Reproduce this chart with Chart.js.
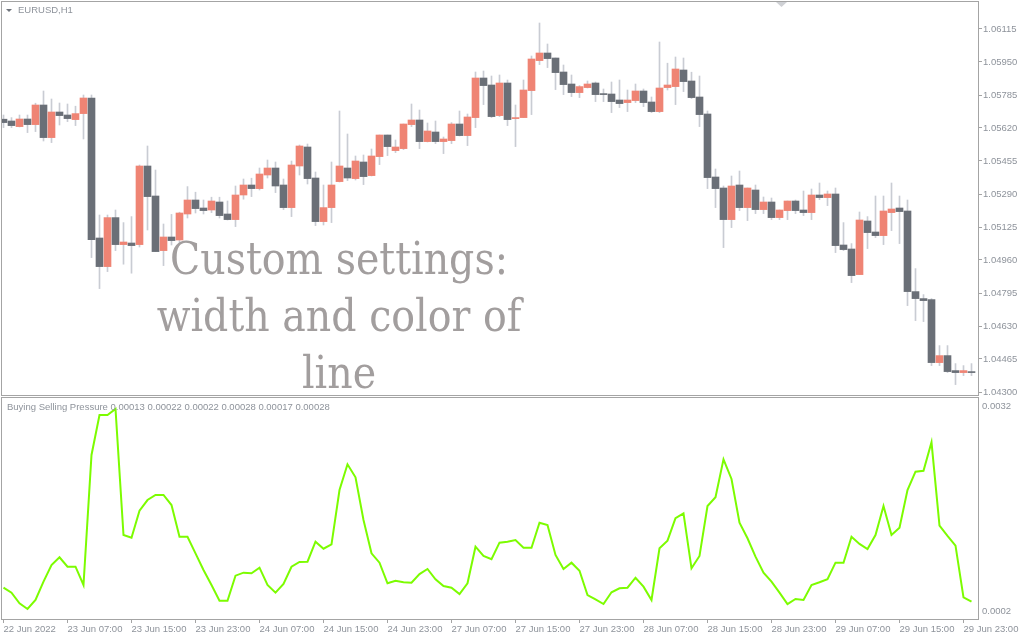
<!DOCTYPE html>
<html lang="en">
<head>
<meta charset="UTF-8">
<title>EURUSD,H1 - Buying Selling Pressure</title>
<script src="https://cdn.jsdelivr.net/npm/chart.js@4.4.3/dist/chart.umd.min.js"></script>
<style>
  body { margin: 0; background: #fff; }
  #wrap { position: relative; width: 1024px; height: 640px; overflow: hidden; background: #fff; }
  #wrap canvas { position: absolute; left: 0; }
</style>
</head>
<body>
<div id="wrap">
  <canvas id="price" width="1024" height="400" style="top:0"></canvas>
  <canvas id="bsp" width="1024" height="243" style="top:397px"></canvas>
</div>
<script>
// EURUSD H1, 22 Jun 2022 23:00 .. 30 Jun 2022 00:00 (122 bars)
const opens = [
  1.05664, 1.05655, 1.05627, 1.05665, 1.05637, 1.05735, 1.05572, 1.05700, 1.05685, 1.05662,
  1.05692, 1.05770, 1.05070, 1.04927, 1.05172, 1.05037, 1.05045, 1.05037, 1.05430, 1.05280,
  1.05007, 1.05075, 1.05060, 1.05190, 1.05260, 1.05220, 1.05210, 1.05250, 1.05190, 1.05162,
  1.05285, 1.05335, 1.05317, 1.05385, 1.05420, 1.05335, 1.05222, 1.05430, 1.05525, 1.05370,
  1.05152, 1.05222, 1.05352, 1.05420, 1.05367, 1.05450, 1.05382, 1.05477, 1.05585, 1.05507,
  1.05517, 1.05637, 1.05660, 1.05552, 1.05600, 1.05552, 1.05557, 1.05640, 1.05582, 1.05672,
  1.05870, 1.05835, 1.05682, 1.05845, 1.05667, 1.05672, 1.05807, 1.05957, 1.05995, 1.05970,
  1.05900, 1.05840, 1.05797, 1.05822, 1.05845, 1.05790, 1.05790, 1.05760, 1.05747, 1.05757,
  1.05805, 1.05750, 1.05702, 1.05822, 1.05827, 1.05910, 1.05855, 1.05775, 1.05690, 1.05375,
  1.05320, 1.05162, 1.05335, 1.05222, 1.05310, 1.05212, 1.05250, 1.05172, 1.05207, 1.05255,
  1.05210, 1.05197, 1.05285, 1.05272, 1.05290, 1.05035, 1.05015, 1.04887, 1.05155, 1.05100,
  1.05082, 1.05197, 1.05220, 1.05205, 1.04802, 1.04767, 1.04762, 1.04447, 1.04482, 1.04407,
  1.04397, 1.04402
];
const highs = [
  1.05685, 1.05672, 1.05685, 1.05685, 1.05744, 1.05805, 1.05765, 1.05745, 1.05740, 1.05729,
  1.05785, 1.05785, 1.05185, 1.05185, 1.05210, 1.05147, 1.05177, 1.05435, 1.05530, 1.05410,
  1.05140, 1.05188, 1.05199, 1.05327, 1.05299, 1.05260, 1.05274, 1.05274, 1.05255, 1.05330,
  1.05365, 1.05369, 1.05420, 1.05460, 1.05450, 1.05365, 1.05455, 1.05535, 1.05540, 1.05400,
  1.05335, 1.05450, 1.05705, 1.05590, 1.05480, 1.05485, 1.05515, 1.05585, 1.05585, 1.05560,
  1.05640, 1.05740, 1.05710, 1.05645, 1.05655, 1.05575, 1.05647, 1.05705, 1.05690, 1.05900,
  1.05905, 1.05880, 1.05885, 1.05860, 1.05735, 1.05860, 1.05980, 1.06145, 1.06040, 1.05970,
  1.05935, 1.05885, 1.05832, 1.05855, 1.05850, 1.05815, 1.05850, 1.05860, 1.05810, 1.05840,
  1.05815, 1.05775, 1.06050, 1.05944, 1.05975, 1.05970, 1.05899, 1.05880, 1.05705, 1.05415,
  1.05330, 1.05380, 1.05405, 1.05320, 1.05335, 1.05275, 1.05270, 1.05210, 1.05255, 1.05260,
  1.05305, 1.05315, 1.05345, 1.05305, 1.05320, 1.05147, 1.05042, 1.05200, 1.05177, 1.05280,
  1.05280, 1.05345, 1.05280, 1.05260, 1.04917, 1.04787, 1.04767, 1.04532, 1.04532, 1.04442,
  1.04432, 1.04442
];
const lows = [
  1.05622, 1.05622, 1.05625, 1.05597, 1.05602, 1.05555, 1.05547, 1.05635, 1.05652, 1.05632,
  1.05565, 1.04972, 1.04817, 1.04902, 1.05007, 1.04939, 1.04894, 1.05025, 1.05110, 1.05002,
  1.04932, 1.05035, 1.05045, 1.05170, 1.05195, 1.05190, 1.05197, 1.05170, 1.05160, 1.05127,
  1.05264, 1.05277, 1.05310, 1.05370, 1.05297, 1.05212, 1.05177, 1.05385, 1.05340, 1.05132,
  1.05135, 1.05147, 1.05350, 1.05357, 1.05360, 1.05337, 1.05380, 1.05437, 1.05482, 1.05497,
  1.05512, 1.05627, 1.05517, 1.05550, 1.05542, 1.05492, 1.05542, 1.05580, 1.05532, 1.05622,
  1.05737, 1.05672, 1.05677, 1.05632, 1.05527, 1.05672, 1.05687, 1.05937, 1.05922, 1.05812,
  1.05787, 1.05777, 1.05772, 1.05820, 1.05752, 1.05752, 1.05697, 1.05722, 1.05702, 1.05747,
  1.05727, 1.05697, 1.05697, 1.05810, 1.05737, 1.05802, 1.05767, 1.05627, 1.05317, 1.05222,
  1.05022, 1.05122, 1.05207, 1.05157, 1.05192, 1.05192, 1.05162, 1.05162, 1.05162, 1.05192,
  1.05182, 1.05162, 1.05262, 1.05232, 1.04997, 1.05007, 1.04847, 1.04887, 1.05017, 1.05072,
  1.05037, 1.05107, 1.05042, 1.04732, 1.04657, 1.04652, 1.04432, 1.04432, 1.04397, 1.04337,
  1.04382, 1.04382
];
const closes = [
  1.05647, 1.05632, 1.05665, 1.05637, 1.05735, 1.05572, 1.05700, 1.05682, 1.05667, 1.05692,
  1.05770, 1.05062, 1.04927, 1.05172, 1.05037, 1.05050, 1.05032, 1.05430, 1.05277, 1.05002,
  1.05075, 1.05057, 1.05195, 1.05260, 1.05217, 1.05207, 1.05255, 1.05182, 1.05162, 1.05285,
  1.05335, 1.05317, 1.05390, 1.05420, 1.05330, 1.05222, 1.05435, 1.05530, 1.05367, 1.05152,
  1.05222, 1.05335, 1.05430, 1.05370, 1.05455, 1.05377, 1.05480, 1.05585, 1.05527, 1.05525,
  1.05640, 1.05660, 1.05552, 1.05605, 1.05552, 1.05565, 1.05640, 1.05582, 1.05675, 1.05870,
  1.05832, 1.05677, 1.05845, 1.05662, 1.05670, 1.05810, 1.05965, 1.05995, 1.05967, 1.05897,
  1.05837, 1.05797, 1.05827, 1.05840, 1.05787, 1.05787, 1.05752, 1.05742, 1.05760, 1.05805,
  1.05747, 1.05702, 1.05820, 1.05835, 1.05915, 1.05852, 1.05772, 1.05687, 1.05372, 1.05317,
  1.05162, 1.05330, 1.05222, 1.05320, 1.05212, 1.05250, 1.05172, 1.05210, 1.05255, 1.05207,
  1.05197, 1.05285, 1.05272, 1.05290, 1.05032, 1.05012, 1.04882, 1.05160, 1.05097, 1.05082,
  1.05205, 1.05215, 1.05202, 1.04802, 1.04767, 1.04757, 1.04447, 1.04482, 1.04402, 1.04397,
  1.04407, 1.04397
];
// Buying Selling Pressure indicator, one value per bar
const pressure = [
  0.000541, 0.000468, 0.000313, 0.000229, 0.000361, 0.000629, 0.000873, 0.000986, 0.000848, 0.000848,
  0.000581, 0.002483, 0.003068, 0.003068, 0.003156, 0.001312, 0.001273, 0.001668, 0.001824, 0.001898,
  0.001898, 0.001751, 0.001287, 0.001287, 0.001044, 0.000800, 0.000581, 0.000351, 0.000351, 0.000717,
  0.000761, 0.000752, 0.000834, 0.000581, 0.000468, 0.000595, 0.000848, 0.000917, 0.000921, 0.001214,
  0.001112, 0.001176, 0.001971, 0.002347, 0.002157, 0.001532, 0.001044, 0.000907, 0.000605, 0.000643,
  0.000620, 0.000614, 0.000741, 0.000815, 0.000664, 0.000566, 0.000541, 0.000449, 0.000605, 0.001141,
  0.001005, 0.000957, 0.001200, 0.001214, 0.001239, 0.001126, 0.001126, 0.001492, 0.001459, 0.001020,
  0.000815, 0.000907, 0.000790, 0.000434, 0.000371, 0.000302, 0.000474, 0.000532, 0.000541, 0.000687,
  0.000556, 0.000361, 0.001118, 0.001229, 0.001557, 0.001630, 0.000825, 0.001005, 0.001737, 0.001864,
  0.002420, 0.002132, 0.001492, 0.001264, 0.000995, 0.000761, 0.000629, 0.000468, 0.000302, 0.000376,
  0.000361, 0.000581, 0.000620, 0.000664, 0.000907, 0.000907, 0.001287, 0.001181, 0.001107, 0.001312,
  0.001737, 0.001312, 0.001419, 0.001971, 0.002239, 0.002253, 0.002669, 0.001448, 0.001298, 0.001156,
  0.000400, 0.000336
];
// time axis labels, one every 8 bars
const timeLabels = [
  '22 Jun 2022', '23 Jun 07:00', '23 Jun 15:00', '23 Jun 23:00', '24 Jun 07:00', '24 Jun 15:00',
  '24 Jun 23:00', '27 Jun 07:00', '27 Jun 15:00', '27 Jun 23:00', '28 Jun 07:00', '28 Jun 15:00',
  '28 Jun 23:00', '29 Jun 07:00', '29 Jun 15:00', '29 Jun 23:00'
];
const priceTicks = [1.06115, 1.05950, 1.05785, 1.05620, 1.05455, 1.05290, 1.05125, 1.04960, 1.04795, 1.04630, 1.04465, 1.04300];
const pressureTicks = [0.0032, 0.0002];
const legendValues = ['0.00013', '0.00022', '0.00022', '0.00028', '0.00017', '0.00028'];

const BULL = '#ef8474';
const BEAR = '#6a6f77';
const WICK = '#c9ccd3';
const FRAME = '#a4a4a4';
const TEXT = '#8e939b';
const AXIS_FONT = { family: 'Liberation Sans', size: 9.5 };

// bar k sits at pixel 3.5 + 8k, plot area runs from x=2 to x=978
const xMin = -0.1875;
const xMax = 121.8125;

const frame = {
  id: 'frame',
  afterDraw(chart) {
    const a = chart.chartArea, ctx = chart.ctx;
    ctx.save();
    ctx.strokeStyle = FRAME;
    ctx.lineWidth = 1;
    ctx.strokeRect(a.left - 0.5, a.top - 0.5, a.right - a.left + 1, a.bottom - a.top + 1);
    ctx.restore();
  }
};

const header = {
  id: 'header',
  afterDraw(chart) {
    const ctx = chart.ctx;
    ctx.save();
    ctx.fillStyle = '#6f747c';
    ctx.beginPath();
    ctx.moveTo(6, 9); ctx.lineTo(12, 9); ctx.lineTo(9, 12); ctx.closePath();
    ctx.fill();
    ctx.fillStyle = TEXT;
    ctx.font = '9.5px "Liberation Sans"';
    ctx.textBaseline = 'middle';
    ctx.fillText('EURUSD,H1', 18, 10);
    // chart shift marker
    ctx.fillStyle = '#cfd1d5';
    ctx.beginPath();
    ctx.moveTo(776, 2); ctx.lineTo(787, 2); ctx.lineTo(781.5, 7); ctx.closePath();
    ctx.fill();
    ctx.restore();
  }
};

const watermark = {
  id: 'watermark',
  afterDatasetsDraw(chart) {
    const ctx = chart.ctx;
    const lines = ['Custom settings:', 'width and color of', 'line'];
    const baselines = [274, 331, 388];
    ctx.save();
    ctx.font = '44px "DejaVu Serif"';
    const sx = 338 / ctx.measureText(lines[0]).width;
    ctx.fillStyle = '#a29e9e';
    ctx.textAlign = 'center';
    ctx.textBaseline = 'alphabetic';
    lines.forEach((t, i) => {
      ctx.save();
      ctx.translate(339, baselines[i]);
      ctx.scale(sx, 1);
      ctx.fillText(t, 0, 0);
      ctx.restore();
    });
    ctx.restore();
  }
};

const subLegend = {
  id: 'subLegend',
  afterDraw(chart) {
    const ctx = chart.ctx;
    ctx.save();
    ctx.fillStyle = TEXT;
    ctx.font = '9.5px "Liberation Sans"';
    ctx.textBaseline = 'middle';
    ctx.fillText('Buying Selling Pressure ' + legendValues.join(' '), 7, 10);
    ctx.restore();
  }
};

const idx = opens.map((_, i) => i);
const bodyColors = idx.map(i => closes[i] >= opens[i] ? BULL : BEAR);

new Chart(document.getElementById('price'), {
  type: 'bar',
  data: {
    datasets: [
      {
        label: 'wick',
        data: idx.map(i => ({ x: i, y: [lows[i], highs[i]] })),
        backgroundColor: WICK,
        barThickness: 1,
        minBarLength: 1,
        grouped: false,
        order: 2
      },
      {
        label: 'body',
        data: idx.map(i => ({ x: i, y: [opens[i], closes[i]] })),
        backgroundColor: bodyColors,
        barThickness: 7,
        minBarLength: 1,
        grouped: false,
        order: 1
      }
    ]
  },
  plugins: [watermark, frame, header],
  options: {
    animation: false,
    responsive: false,
    devicePixelRatio: 1,
    events: [],
    layout: { padding: { top: 2, bottom: 5, left: 2, right: 0 } },
    plugins: { legend: { display: false }, tooltip: { enabled: false } },
    scales: {
      x: { type: 'linear', min: xMin, max: xMax, offset: false, display: false, grid: { offset: false } },
      y: {
        position: 'right',
        min: 1.04285,
        max: 1.06250,
        afterBuildTicks: s => { s.ticks = priceTicks.map(v => ({ value: v })); },
        afterFit: s => { s.width = 46; s.paddingTop = 0; s.paddingBottom = 0; },
        border: { display: false },
        grid: { drawOnChartArea: false, drawTicks: true, tickLength: 4, color: FRAME },
        ticks: { padding: 1, color: TEXT, font: AXIS_FONT, callback: v => v.toFixed(5) }
      }
    }
  }
});

new Chart(document.getElementById('bsp'), {
  type: 'line',
  data: {
    datasets: [{
      label: 'Buying Selling Pressure',
      data: idx.map(i => ({ x: i, y: pressure[i] })),
      borderColor: '#7cfc00',
      borderWidth: 2,
      pointRadius: 0,
      tension: 0,
      fill: false
    }]
  },
  plugins: [frame, subLegend],
  options: {
    animation: false,
    responsive: false,
    devicePixelRatio: 1,
    events: [],
    layout: { padding: { top: 1, bottom: 0, left: 2, right: 0 } },
    plugins: { legend: { display: false }, tooltip: { enabled: false } },
    scales: {
      x: {
        type: 'linear',
        min: xMin,
        max: xMax,
        offset: false,
        afterBuildTicks: s => { s.ticks = timeLabels.map((_, i) => ({ value: i * 8 })); },
        afterFit: s => { s.height = 21; s.paddingLeft = 0; s.paddingRight = 0; },
        border: { display: false },
        grid: { drawOnChartArea: false, drawTicks: true, tickLength: 4, color: FRAME, offset: false },
        ticks: {
          align: 'start', maxRotation: 0, autoSkip: false, padding: 1,
          color: TEXT, font: AXIS_FONT,
          callback: v => timeLabels[Math.round(v / 8)]
        }
      },
      y: {
        position: 'right',
        min: 0.0000829,
        max: 0.0033171,
        afterBuildTicks: s => { s.ticks = pressureTicks.map(v => ({ value: v })); },
        afterFit: s => { s.width = 46; s.paddingTop = 0; s.paddingBottom = 0; },
        border: { display: false },
        grid: { drawOnChartArea: false, drawTicks: false },
        ticks: { padding: 4, color: TEXT, font: AXIS_FONT, callback: v => v.toFixed(4) }
      }
    }
  }
});
</script>
</body>
</html>
